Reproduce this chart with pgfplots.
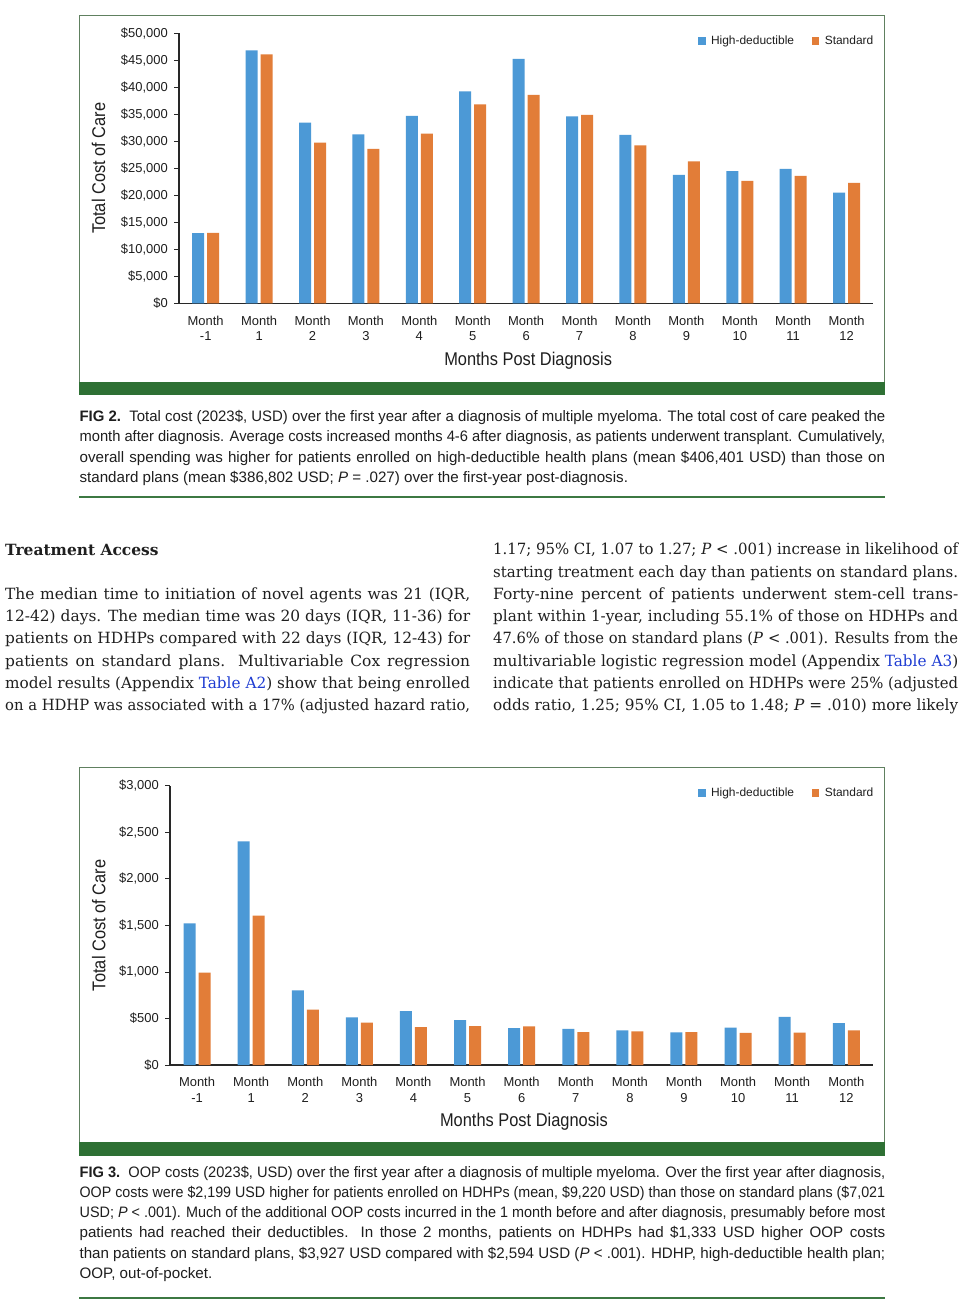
\documentclass[border=0pt]{standalone}
\usepackage{fontspec}
\usepackage{graphicx}
\setmainfont{DejaVu Serif}
\newfontfamily\chartfont{Liberation Sans}
\newfontfamily\condfont[FakeStretch=0.89]{Liberation Sans}
\newfontfamily\capfont{Liberation Sans}
\usepackage{pgfplots}
\usepackage{pgfplotstable}
\pgfplotsset{compat=1.18}

\definecolor{hdblue}{RGB}{76,153,214}
\definecolor{storange}{RGB}{226,125,56}
\definecolor{framegreen}{RGB}{96,128,96}
\definecolor{bargreen}{RGB}{46,112,52}
\definecolor{linegreen}{RGB}{60,120,66}
\definecolor{linkblue}{RGB}{30,60,210}
\definecolor{axiscol}{RGB}{40,40,40}
\definecolor{textcol}{RGB}{30,30,30}

\pgfplotstableread{
x hd st
0 13000 13050
1 46850 46100
2 33450 29750
3 31300 28600
4 34700 31400
5 39250 36850
6 45250 38600
7 34600 34900
8 31200 29250
9 23800 26300
10 24500 22650
11 24900 23600
12 20500 22300
}\totalcost

\pgfplotstableread{
x hd st
0 1522 992
1 2402 1604
2 802 594
3 512 455
4 580 408
5 483 419
6 397 415
7 387 354
8 372 362
9 351 354
10 401 344
11 516 347
12 451 372
}\oopcost

\pgfplotsset{
  mybars/.style={
    scale only axis, anchor=south west,
    xmin=-0.5, xmax=12.5, ymin=0,
    axis lines=left,
    axis line style={-, draw=axiscol, line width=1.1bp},
    ybar=3bp, bar width=12bp,
    scaled y ticks=false,
    xtick={0,...,12},
    xticklabels={{Month\\-1},{Month\\1},{Month\\2},{Month\\3},{Month\\4},{Month\\5},{Month\\6},{Month\\7},{Month\\8},{Month\\9},{Month\\10},{Month\\11},{Month\\12}},
    xtick style={draw=none},
    ytick style={draw=axiscol, line width=0.8bp},
    tick align=outside, major tick length=5bp,
    xticklabel style={font=\chartfont\fontsize{13}{15.7}\selectfont, align=center, inner sep=0pt, anchor=north, yshift=-7.4bp, text=textcol},
    yticklabel style={font=\chartfont\fontsize{13}{15}\selectfont, inner sep=0pt, anchor=east, xshift=-6bp, text=textcol},
    xlabel={Months Post Diagnosis},
    ylabel={Total Cost of Care},
    xlabel style={font=\condfont\fontsize{18.5}{20}\selectfont, text=textcol, anchor=base, inner sep=0pt},
    ylabel style={font=\condfont\fontsize{18.5}{20}\selectfont, text=textcol, anchor=center, inner sep=0pt},
    legend columns=2,
    legend style={draw=none, fill=none, anchor=north east, font=\chartfont\fontsize{12}{13}\selectfont, text=textcol, inner sep=0pt, outer sep=0pt, nodes={inner sep=0pt},
      /tikz/every odd column/.style={column sep=5.5bp},
      /tikz/every even column/.style={column sep=17.5bp}},
    clip=false,
  },
  sq/.style={draw=none, fill=#1, legend image code/.code={\fill[#1] (0bp,-3.85bp) rectangle (7.7bp,3.85bp);}},
}

% justified line of a given width; squeezed horizontally if too long
\newsavebox{\linebox}
\newcommand{\fitline}[2]{%
  \sbox{\linebox}{#2}%
  \ifdim\wd\linebox>#1\relax
    \resizebox{#1}{\ht\linebox}{\usebox{\linebox}}%
  \else
    \makebox[#1][s]{#2}%
  \fi}
\newcommand{\jline}[1]{\fitline{465bp}{#1}}
\newcommand{\capline}[1]{\fitline{805.6bp}{#1}}

\begin{document}
\begin{tikzpicture}
\path[use as bounding box] (0,0) rectangle (972bp,-1316bp);
\fill[white] (0,0) rectangle (972bp,-1316bp);

% ---------- Figure 2 frame ----------
\draw[framegreen, line width=1bp] (79.4bp,-381.7bp) -- (79.4bp,-15.7bp) -- (884.7bp,-15.7bp) -- (884.7bp,-381.7bp);
\fill[bargreen] (78.9bp,-381.7bp) rectangle (885.2bp,-395bp);

\begin{axis}[mybars,
  at={(179bp,-303.3bp)},
  width=694.3bp, height=270bp,
  ymax=50000,
  ytick={0,5000,...,50000},
  yticklabels={{\$0},{\$5,000},{\$10,000},{\$15,000},{\$20,000},{\$25,000},{\$30,000},{\$35,000},{\$40,000},{\$45,000},{\$50,000}},
  xlabel style={at={([xshift=2bp,yshift=-62.4bp]rel axis cs:0.5,0)}},
  ylabel style={at={([xshift=-80.4bp]rel axis cs:0,0.5)}},
  legend style={at={([yshift=-2.4bp]rel axis cs:1,1)}},
]
\addplot[sq=hdblue] table[x=x,y=hd] {\totalcost};
\addplot[sq=storange] table[x=x,y=st] {\totalcost};
\legend{High-deductible,Standard}
\end{axis}

% ---------- Figure 2 caption ----------
\begin{scope}[every node/.style={anchor=base west, inner sep=0pt, text=textcol, font=\capfont\fontsize{15.2}{16}\selectfont}]
\node at (79.4bp,-421.2bp) {\capline{\textbf{FIG 2.}\ \ Total cost (2023\$, USD) over the first year after a diagnosis of multiple myeloma. The total cost of care peaked the}};
\node at (79.4bp,-441.6bp) {\capline{month after diagnosis. Average costs increased months 4-6 after diagnosis, as patients underwent transplant. Cumulatively,}};
\node at (79.4bp,-462.0bp) {\capline{overall spending was higher for patients enrolled on high-deductible health plans (mean \$406,401 USD) than those on}};
\node at (79.4bp,-482.4bp) {standard plans (mean \$386,802 USD; \textit{P} = .027) over the first-year post-diagnosis.};
\end{scope}
\fill[linegreen] (79.4bp,-495.8bp) rectangle (885bp,-497.6bp);

% ---------- Body text ----------
\begin{scope}[every node/.style={anchor=base west, inner sep=0pt, text=black!88, font=\fontsize{15.5}{20}\selectfont}]
\node at (5bp,-555bp) {\textbf{Treatment Access}};
\node at (5bp,-599.3bp) {\jline{The median time to initiation of novel agents was 21 (IQR,}};
\node at (5bp,-621.6bp) {\jline{12-42) days. The median time was 20 days (IQR, 11-36) for}};
\node at (5bp,-643.9bp) {\jline{patients on HDHPs compared with 22 days (IQR, 12-43) for}};
\node at (5bp,-666.2bp) {\jline{patients on standard plans. Multivariable Cox regression}};
\node at (5bp,-688.5bp) {\jline{model results (Appendix \textcolor{linkblue}{Table A2}) show that being enrolled}};
\node at (5bp,-710.8bp) {\jline{on a HDHP was associated with a 17\% (adjusted hazard ratio,}};
\node at (493bp,-554.7bp) {\jline{1.17; 95\% CI, 1.07 to 1.27; \textit{P} < .001) increase in likelihood of}};
\node at (493bp,-577.0bp) {\jline{starting treatment each day than patients on standard plans.}};
\node at (493bp,-599.3bp) {\jline{Forty-nine percent of patients underwent stem-cell trans-}};
\node at (493bp,-621.6bp) {\jline{plant within 1-year, including 55.1\% of those on HDHPs and}};
\node at (493bp,-643.9bp) {\jline{47.6\% of those on standard plans (\textit{P} < .001). Results from the}};
\node at (493bp,-666.2bp) {\jline{multivariable logistic regression model (Appendix \textcolor{linkblue}{Table A3})}};
\node at (493bp,-688.5bp) {\jline{indicate that patients enrolled on HDHPs were 25\% (adjusted}};
\node at (493bp,-710.8bp) {\jline{odds ratio, 1.25; 95\% CI, 1.05 to 1.48; \textit{P} = .010) more likely}};
\end{scope}

% ---------- Figure 3 frame ----------
\draw[framegreen, line width=1bp] (79.4bp,-1142.3bp) -- (79.4bp,-767.3bp) -- (884.7bp,-767.3bp) -- (884.7bp,-1142.3bp);
\fill[bargreen] (78.9bp,-1142.3bp) rectangle (885.2bp,-1156bp);

\begin{axis}[mybars,
  at={(170bp,-1065bp)},
  width=703.3bp, height=279.3bp,
  ymax=3000,
  ytick={0,500,...,3000},
  yticklabels={{\$0},{\$500},{\$1,000},{\$1,500},{\$2,000},{\$2,500},{\$3,000}},
  xlabel style={at={([xshift=2.3bp,yshift=-61.7bp]rel axis cs:0.5,0)}},
  ylabel style={at={([xshift=-71.3bp]rel axis cs:0,0.5)}},
  legend style={at={([yshift=-2.4bp]rel axis cs:1,1)}},
]
\addplot[sq=hdblue] table[x=x,y=hd] {\oopcost};
\addplot[sq=storange] table[x=x,y=st] {\oopcost};
\legend{High-deductible,Standard}
\end{axis}

% ---------- Figure 3 caption ----------
\begin{scope}[every node/.style={anchor=base west, inner sep=0pt, text=textcol, font=\capfont\fontsize{15.2}{16}\selectfont}]
\node at (79.4bp,-1177.2bp) {\capline{\textbf{FIG 3.}\ \ OOP costs (2023\$, USD) over the first year after a diagnosis of multiple myeloma. Over the first year after diagnosis,}};
\node at (79.4bp,-1197.4bp) {\capline{OOP costs were \$2,199 USD higher for patients enrolled on HDHPs (mean, \$9,220 USD) than those on standard plans (\$7,021}};
\node at (79.4bp,-1217.6bp) {\capline{USD; \textit{P} < .001). Much of the additional OOP costs incurred in the 1 month before and after diagnosis, presumably before most}};
\node at (79.4bp,-1237.8bp) {\capline{patients had reached their deductibles. In those 2 months, patients on HDHPs had \$1,333 USD higher OOP costs}};
\node at (79.4bp,-1258.0bp) {\capline{than patients on standard plans, \$3,927 USD compared with \$2,594 USD (\textit{P} < .001). HDHP, high-deductible health plan;}};
\node at (79.4bp,-1278.2bp) {OOP, out-of-pocket.};
\end{scope}
\fill[linegreen] (79.4bp,-1297.4bp) rectangle (885bp,-1299.2bp);
\end{tikzpicture}
\end{document}
